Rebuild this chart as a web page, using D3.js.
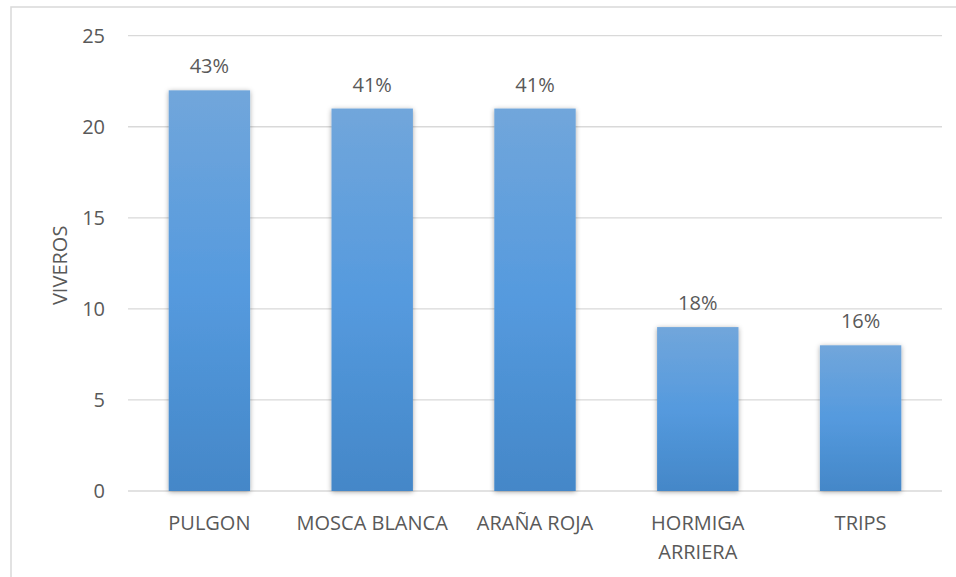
<!DOCTYPE html>
<html>
<head>
<meta charset="utf-8">
<script src="https://cdn.jsdelivr.net/npm/d3@7"></script>
<style>
  body { margin: 0; background: #fff; }
  text { font-family: "Open Sans", "Noto Sans", sans-serif; fill: #595959; }
</style>
</head>
<body>
<div id="plot"></div>
<script>
const categories = ["PULGON", "MOSCA BLANCA", "ARAÑA ROJA", "HORMIGA ARRIERA", "TRIPS"];
const categoryLines = [["PULGON"], ["MOSCA BLANCA"], ["ARAÑA ROJA"], ["HORMIGA", "ARRIERA"], ["TRIPS"]];
const viveros = [22, 21, 21, 9, 8];
const percentLabels = ["43%", "41%", "41%", "18%", "16%"];
const yTicks = [0, 5, 10, 15, 20, 25];

const W = 956, H = 577;
const margin = {top: 35.7, right: 14, bottom: 86, left: 128};
const width = W - margin.left - margin.right,
      height = H - margin.top - margin.bottom;
const fs = "20px";

const root = d3.select("#plot")
  .append("svg")
    .attr("width", W)
    .attr("height", H);

// chart frame
root.append("rect")
  .attr("x", 11).attr("y", 7)
  .attr("width", W + 10).attr("height", H + 10)
  .attr("fill", "none")
  .attr("stroke", "#d9d9d9")
  .attr("stroke-width", 1.5);

const defs = root.append("defs");
const grad = defs.append("linearGradient")
  .attr("id", "barGrad")
  .attr("x1", 0).attr("y1", 0).attr("x2", 0).attr("y2", 1);
grad.append("stop").attr("offset", "0%").attr("stop-color", "#71a6db");
grad.append("stop").attr("offset", "50%").attr("stop-color", "#559ade");
grad.append("stop").attr("offset", "100%").attr("stop-color", "#4487c8");

const shadow = defs.append("filter")
  .attr("id", "shadow")
  .attr("x", "-20%").attr("y", "-10%").attr("width", "140%").attr("height", "120%");
shadow.append("feDropShadow")
  .attr("dx", 0).attr("dy", 1)
  .attr("stdDeviation", 2.5)
  .attr("flood-color", "#000")
  .attr("flood-opacity", 0.35);

const svg = root.append("g")
  .attr("transform", `translate(${margin.left},${margin.top})`);

const x = d3.scaleBand()
  .domain(categories)
  .range([0, width])
  .paddingInner(0.5)
  .paddingOuter(0.25);

const y = d3.scaleLinear()
  .domain([0, 25])
  .range([height, 0]);

// gridlines
svg.append("g")
  .selectAll("line")
  .data(yTicks)
  .join("line")
    .attr("x1", 0)
    .attr("x2", width)
    .attr("y1", d => y(d))
    .attr("y2", d => y(d))
    .attr("stroke", "#d9d9d9")
    .attr("stroke-width", 1.3);

// y axis labels
const yAxis = svg.append("g")
  .call(d3.axisLeft(y).tickValues(yTicks).tickSize(0).tickPadding(23));
yAxis.select(".domain").remove();
yAxis.selectAll("text")
  .style("font-size", fs)
  .attr("fill", "#595959");

// bars
svg.selectAll("rect.bar")
  .data(viveros)
  .join("rect")
    .attr("class", "bar")
    .attr("x", (d, i) => x(categories[i]))
    .attr("y", d => y(d))
    .attr("width", x.bandwidth())
    .attr("height", d => height - y(d))
    .attr("fill", "url(#barGrad)")
    .attr("filter", "url(#shadow)");

// data labels
svg.selectAll("text.pct")
  .data(percentLabels)
  .join("text")
    .attr("class", "pct")
    .attr("x", (d, i) => x(categories[i]) + x.bandwidth() / 2)
    .attr("y", (d, i) => y(viveros[i]) - 17)
    .attr("text-anchor", "middle")
    .style("font-size", fs)
    .text(d => d);

// category labels
const xLab = svg.append("g")
  .attr("transform", `translate(0,${height})`)
  .selectAll("text")
  .data(categoryLines)
  .join("text")
    .attr("x", (d, i) => x(categories[i]) + x.bandwidth() / 2)
    .attr("y", 39)
    .attr("text-anchor", "middle")
    .style("font-size", fs);
xLab.selectAll("tspan")
  .data(d => d)
  .join("tspan")
    .attr("x", function() { return d3.select(this.parentNode).attr("x"); })
    .attr("dy", (d, i) => i === 0 ? 0 : 29)
    .text(d => d);

// y axis title
svg.append("text")
  .attr("transform", `translate(${-61},${height / 2 + 2}) rotate(-90)`)
  .attr("text-anchor", "middle")
  .style("font-size", fs)
  .text("VIVEROS");
</script>
</body>
</html>
